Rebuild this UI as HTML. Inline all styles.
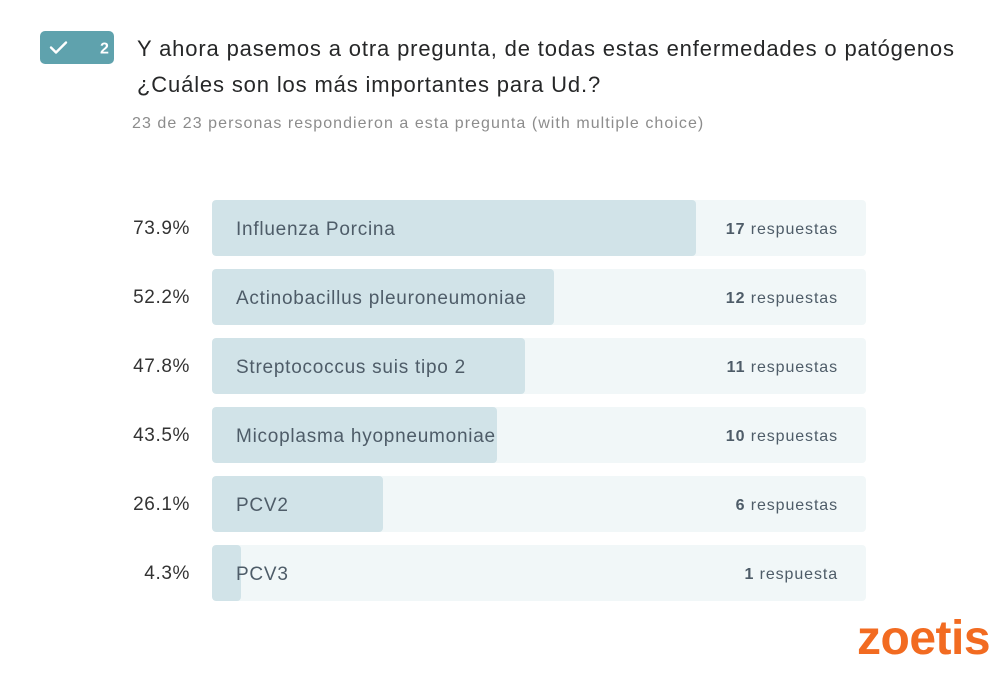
<!DOCTYPE html>
<html><head><meta charset="utf-8">
<style>
html,body{margin:0;padding:0;background:#fff;}
body{width:1000px;height:676px;position:relative;overflow:hidden;font-family:"Liberation Sans",sans-serif;}
.badge{position:absolute;left:40px;top:31px;width:74px;height:33px;border-radius:5px;background:#5fa2ad;}
.title{position:absolute;left:137px;top:31px;font-size:22px;letter-spacing:0.85px;line-height:36px;color:#262728;white-space:nowrap;}
.sub{position:absolute;left:132px;top:115px;font-size:16px;letter-spacing:1.05px;color:#8c8c8c;white-space:nowrap;}
.row{position:absolute;left:212px;width:654px;height:56px;border-radius:4px;background:#f1f7f8;overflow:hidden;}
.fill{position:absolute;left:0;top:0;height:56px;background:#d1e3e8;border-radius:4px;}
.lab{position:absolute;left:24px;top:2px;line-height:56px;font-size:19px;letter-spacing:0.75px;color:#4e5c68;white-space:nowrap;}
.cnt{position:absolute;right:28px;top:2px;line-height:56px;font-size:16px;letter-spacing:0.9px;color:#4e5c68;white-space:nowrap;}
.cnt b{font-weight:bold;}
.pct{position:absolute;right:810px;width:100px;text-align:right;font-size:19px;letter-spacing:0.6px;color:#333;line-height:56px;margin-top:1px;}
.logo{position:absolute;left:857px;top:611px;font-size:48px;font-weight:bold;color:#f26b21;letter-spacing:-0.5px;font-family:"Liberation Sans",sans-serif;}
</style></head><body>
<div class="badge">
<svg width="74" height="33" style="position:absolute;left:0;top:0">
<polyline points="11,16.5 16,21.5 26,11.5" fill="none" stroke="#fff" stroke-width="2.4" stroke-linecap="round" stroke-linejoin="round"/>
<text x="60" y="22.5" fill="#fff" font-family="Liberation Sans" font-weight="bold" font-size="16">2</text>
</svg>
</div>
<div class="title">Y ahora pasemos a otra pregunta, de todas estas enfermedades o patógenos<br>¿Cuáles son los más importantes para Ud.?</div>
<div class="sub">23 de 23 personas respondieron a esta pregunta (with multiple choice)</div>

<div class="pct" style="top:200px">73.9%</div>
<div class="row" style="top:200px"><div class="fill" style="width:484px"></div><div class="lab">Influenza Porcina</div><div class="cnt"><b>17</b> respuestas</div></div>

<div class="pct" style="top:269px">52.2%</div>
<div class="row" style="top:269px"><div class="fill" style="width:342px"></div><div class="lab">Actinobacillus pleuroneumoniae</div><div class="cnt"><b>12</b> respuestas</div></div>

<div class="pct" style="top:338px">47.8%</div>
<div class="row" style="top:338px"><div class="fill" style="width:313px"></div><div class="lab">Streptococcus suis tipo 2</div><div class="cnt"><b>11</b> respuestas</div></div>

<div class="pct" style="top:407px">43.5%</div>
<div class="row" style="top:407px"><div class="fill" style="width:285px"></div><div class="lab">Micoplasma hyopneumoniae</div><div class="cnt"><b>10</b> respuestas</div></div>

<div class="pct" style="top:476px">26.1%</div>
<div class="row" style="top:476px"><div class="fill" style="width:171px"></div><div class="lab">PCV2</div><div class="cnt"><b>6</b> respuestas</div></div>

<div class="pct" style="top:545px">4.3%</div>
<div class="row" style="top:545px"><div class="fill" style="width:29px"></div><div class="lab">PCV3</div><div class="cnt"><b>1</b> respuesta</div></div>

<div class="logo">zoetis</div>
</body></html>
